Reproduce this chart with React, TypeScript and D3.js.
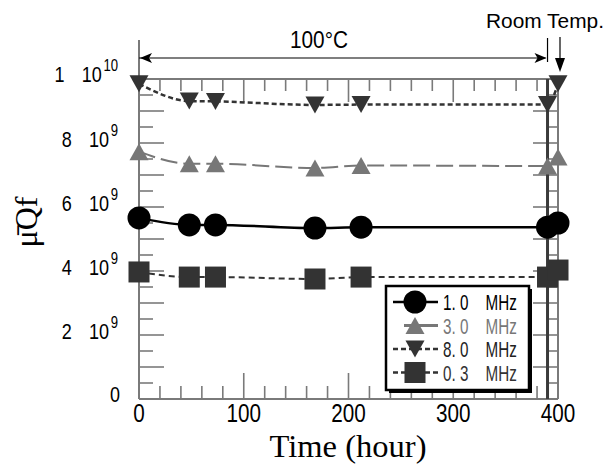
import React from "react";
import * as d3 from "d3";

// ---- data (values in units of 1e9) ----
const times = [0, 48, 73, 168, 212, 390, 400];
const mhz10 = [5.66, 5.44, 5.44, 5.34, 5.37, 5.37, 5.5];
const mhz30 = [7.73, 7.35, 7.35, 7.22, 7.3, 7.28, 7.56];
const mhz80 = [9.85, 9.31, 9.3, 9.19, 9.2, 9.2, 9.85];
const mhz03 = [3.97, 3.81, 3.81, 3.75, 3.81, 3.81, 4.03];
const seriesNames = ["1. 0", "3. 0", "8. 0", "0. 3"];
const xTickLabels = [0, 100, 200, 300, 400];
const yTickMant = ["0", "2", "4", "6", "8", "1"];
const yTickExp = ["", "9", "9", "9", "9", "10"];
const yTickVals = [0, 2, 4, 6, 8, 10];

const W = 610, H = 464;
const L = 139, R = 558, T = 79, B = 399;
const x = d3.scaleLinear().domain([0, 400]).range([L, R]);
const y = d3.scaleLinear().domain([0, 10]).range([B, T]);

const AX = "#7a7a7a";
const SANS = "'Liberation Sans', Arial, sans-serif";
const SERIF = "'Liberation Serif', 'Times New Roman', serif";
const SX = 0.82;

type Mk = "circle" | "up" | "down" | "square";
const series: { vals: number[]; color: string; text: string; lw: number; dash?: string; mk: Mk; name: string }[] = [
  { vals: mhz03, color: "#333", text: "#333", lw: 2, dash: "6,4", mk: "square", name: seriesNames[3] },
  { vals: mhz30, color: "#777", text: "#777", lw: 2, dash: "17,6", mk: "up", name: seriesNames[1] },
  { vals: mhz80, color: "#333", text: "#222", lw: 2.5, dash: "5,3", mk: "down", name: seriesNames[2] },
  { vals: mhz10, color: "#000", text: "#000", lw: 2.5, mk: "circle", name: seriesNames[0] },
];
const legendOrder = [3, 1, 2, 0];

function Marker({ mk, cx, cy, color }: { mk: Mk; cx: number; cy: number; color: string }) {
  if (mk === "circle") return <circle cx={cx} cy={cy} r={11.5} fill={color} />;
  if (mk === "square") return <rect x={cx - 10.5} y={cy - 10.5} width={21} height={21} fill={color} />;
  const w = 19, h = 17;
  const p =
    mk === "up"
      ? `M${cx - w / 2},${cy + h / 2}L${cx + w / 2},${cy + h / 2}L${cx},${cy - h / 2}Z`
      : `M${cx - w / 2},${cy - h / 2}L${cx + w / 2},${cy - h / 2}L${cx},${cy + h / 2}Z`;
  return <path d={p} fill={color} />;
}

export default function App() {
  const line = d3
    .line<number>()
    .x((_, i) => x(times[i]))
    .y((v) => y(v))
    .curve(d3.curveMonotoneX);

  const xMinor = d3.range(0, 401, 20);
  const yMinor = d3.range(0, 10.01, 0.5);

  const legX = 386, legY = 286, legW = 143, legH = 104;
  const rowY = (i: number) => 302 + i * 23.5;

  return (
    <svg width={W} height={H} style={{ position: "absolute", left: 0, top: 0, background: "#fff" }}>
      <rect width={W} height={H} fill="#fff" />
      {/* ticks */}
      <g stroke={AX} strokeWidth={1.6}>
        {xMinor.map((t) => {
          const major = t % 100 === 0;
          return (
            <g key={"x" + t}>
              <line x1={x(t)} x2={x(t)} y1={B} y2={B - (major ? 26 : 13)} />
              <line x1={x(t)} x2={x(t)} y1={T} y2={T + (major ? 23 : 12)} />
            </g>
          );
        })}
        {yMinor.map((v) => {
          const major = Math.abs(v - Math.round(v)) < 1e-6;
          return (
            <g key={"y" + v}>
              <line x1={L} x2={L + (major ? 25 : 14)} y1={y(v)} y2={y(v)} />
              <line x1={R} x2={R - (major ? 25 : 11)} y1={y(v)} y2={y(v)} />
            </g>
          );
        })}
      </g>
      {/* frame */}
      <g stroke={AX} strokeWidth={2} fill="none">
        <line x1={L} x2={L} y1={40} y2={B} />
        <line x1={L} x2={R} y1={B} y2={B} />
        <line x1={L} x2={R} y1={T} y2={T} />
        <line x1={R} x2={R} y1={T} y2={B} />
      </g>
      {/* 390 h marker line */}
      <line x1={x(390)} x2={x(390)} y1={T} y2={B} stroke="#3a3a3a" strokeWidth={3} />

      {/* series lines */}
      {series.map((s, i) => (
        <path key={"l" + i} d={line(s.vals) || ""} fill="none" stroke={s.color} strokeWidth={s.lw} strokeDasharray={s.dash} />
      ))}
      {/* markers */}
      {series.map((s, i) =>
        s.vals.map((v, j) => <Marker key={"m" + i + "-" + j} mk={s.mk} cx={x(times[j])} cy={y(v)} color={s.color} />)
      )}

      {/* x tick labels */}
      <g fontFamily={SANS} fontSize={25} fill="#000">
        {xTickLabels.map((t) => (
          <text key={t} x={x(t)} y={422} textAnchor="middle" textLength={String(t).length * 11.5} lengthAdjust="spacingAndGlyphs">
            {t}
          </text>
        ))}
      </g>
      {/* y tick labels */}
      <g fontFamily={SANS} fill="#000">
        {yTickVals.map((v, i) => {
          const by = y(v) + (v === 0 ? 3 : v === 10 ? 3 : 4);
          if (yTickExp[i] === "")
            return (
              <text key={v} x={120} y={by} fontSize={22} textAnchor="end" textLength={10} lengthAdjust="spacingAndGlyphs">
                {yTickMant[i]}
              </text>
            );
          return (
            <g key={v} transform={`translate(118,${by}) scale(${SX},1)`}>
              <text x={0} y={0} fontSize={22} textAnchor="end">
                {yTickMant[i]}
                <tspan dx={21}>10</tspan>
                <tspan dx={2} dy={-11} fontSize={16}>
                  {yTickExp[i]}
                </tspan>
              </text>
            </g>
          );
        })}
      </g>

      {/* axis titles */}
      <text x={348} y={457} textAnchor="middle" fontFamily={SERIF} fontSize={31} textLength={157} lengthAdjust="spacingAndGlyphs" fill="#000">
        Time (hour)
      </text>
      <text transform="translate(37,222) rotate(-90)" textAnchor="middle" fontFamily={SERIF} fontSize={32} fill="#000">
        {"\u03BC\u0304Qf"}
      </text>

      {/* top annotations */}
      <text x={290} y={48} fontFamily={SANS} fontSize={23} textLength={58} lengthAdjust="spacingAndGlyphs" fill="#000">
        100°C
      </text>
      <line x1={L} x2={x(390) - 2} y1={58} y2={58} stroke="#000" strokeWidth={1.2} />
      <path d={`M${L + 1},58L${L + 13},53L${L + 10},58L${L + 13},63Z`} fill="#000" />
      <path d={`M${x(390) - 1},58L${x(390) - 13},53L${x(390) - 10},58L${x(390) - 13},63Z`} fill="#000" />
      <line x1={x(390)} x2={x(390)} y1={38} y2={62} stroke="#000" strokeWidth={1.2} />
      <text x={486} y={28} fontFamily={SANS} fontSize={21} textLength={118} lengthAdjust="spacingAndGlyphs" fill="#000">
        Room Temp.
      </text>
      <line x1={x(400) + 2} x2={x(400) + 2} y1={37} y2={62} stroke="#000" strokeWidth={1.2} />
      <path d={`M${x(400) - 3},58L${x(400) + 7},58L${x(400) + 2},72Z`} fill="#000" />

      {/* legend */}
      <rect x={legX + 3} y={legY + 3} width={legW} height={legH} fill="#000" />
      <rect x={legX} y={legY} width={legW} height={legH} fill="#fff" stroke="#000" strokeWidth={2.5} />
      {legendOrder.map((si, i) => {
        const s = series[si];
        const cy = rowY(i);
        return (
          <g key={"lg" + i}>
            <line
              x1={s.mk === "up" ? 404 : 393}
              x2={438}
              y1={cy}
              y2={cy}
              stroke={s.color}
              strokeWidth={s.mk === "up" ? 3 : 2.5}
              strokeDasharray={s.mk === "up" || s.mk === "circle" ? undefined : "5,3"}
            />
            <Marker mk={s.mk} cx={415} cy={cy} color={s.color} />
            <g transform={`translate(443,${cy + 8}) scale(0.78,1.1)`}>
              <text x={0} y={0} fontFamily={SANS} fontSize={19.5} fill={s.text}>
                {s.name}
                <tspan dx={22}>MHz</tspan>
              </text>
            </g>
          </g>
        );
      })}
    </svg>
  );
}
